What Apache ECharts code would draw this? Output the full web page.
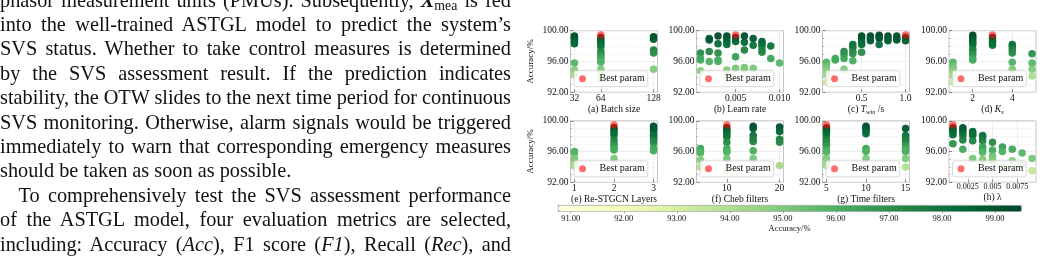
<!DOCTYPE html>
<html>
<head>
<meta charset="utf-8">
<script src="https://cdn.jsdelivr.net/npm/echarts@6/dist/echarts.min.js"></script>
<style>
  html, body { margin: 0; padding: 0; background: #fff; overflow: hidden; }
  #page { position: relative; width: 1043px; height: 258px; }
  #chart { position: absolute; left: 0; top: 0; width: 1043px; height: 258px; }
  #text { position: absolute; left: 0; top: 0; width: 511px; height: 258px;
          font-family: "Liberation Serif", "Times New Roman", serif; font-size: 20.3px; color: #111; }
  #text .ln { position: absolute; left: 0; white-space: nowrap; line-height: 24.4px; }
  #text .sub { font-size: 0.68em; position: relative; top: 0.28em; }
</style>
</head>
<body>
<div id="page">
  <div id="chart"></div>
  <div id="text">
    <div class="ln">phasor measurement units (PMUs). Subsequently, <b><i>X</i></b><span class="sub">mea</span> is fed</div>
    <div class="ln">into the well-trained ASTGL model to predict the system’s</div>
    <div class="ln">SVS status. Whether to take control measures is determined</div>
    <div class="ln">by the SVS assessment result. If the prediction indicates</div>
    <div class="ln">stability, the OTW slides to the next time period for continuous</div>
    <div class="ln">SVS monitoring. Otherwise, alarm signals would be triggered</div>
    <div class="ln">immediately to warn that corresponding emergency measures</div>
    <div class="ln" data-last="1">should be taken as soon as possible.</div>
    <div class="ln" data-indent="18.5">To comprehensively test the SVS assessment performance</div>
    <div class="ln">of the ASTGL model, four evaluation metrics are selected,</div>
    <div class="ln">including: Accuracy (<i>Acc</i>), F1 score (<i>F1</i>), Recall (<i>Rec</i>), and</div>
  </div>
</div>
<script>
  // ---- data ----
  // (a) batch size
  const batchSizes = [32, 64, 128];
  const batchAcc = [
    [99.3, 99.1, 98.9, 98.6, 98.3, 95.8, 94.9, 94.6, 94.3],
    [99.1, 98.8, 98.5, 98.2, 97.9, 97.3, 97.0, 96.7, 96.4, 96.1, 95.9, 95.0, 94.2, 93.7],
    [99.2, 98.9, 97.5, 97.1, 95.0]
  ];
  const batchBest = [64, 99.45];

  // (b) learn rate
  const learnRates = [0.001, 0.002, 0.003, 0.004, 0.005, 0.006, 0.007, 0.008, 0.009, 0.010];
  const learnAcc = [
    [97.1, 96.4, 96.2, 94.8],
    [99.0, 98.8, 97.3, 96.0],
    [99.3, 98.3, 97.1, 96.2, 96.0],
    [99.3, 99.0, 98.6, 98.2, 94.9, 94.2],
    [99.1, 98.6, 96.6, 95.1],
    [99.3, 98.5, 97.5, 95.2, 95.0],
    [99.0, 98.1, 95.1],
    [98.6, 98.3, 98.0, 97.5, 97.2],
    [98.0, 96.4],
    [95.8]
  ];
  const learnBest = [0.005, 99.45];

  // (c) T_win
  const tWins = [0.1, 0.2, 0.3, 0.4, 0.5, 0.6, 0.7, 0.8, 0.9, 1.0];
  const tWinAcc = [
    [95.9, 95.4, 95.1, 94.7, 94.3, 93.3],
    [96.4, 96.2],
    [97.3, 96.9, 96.4, 95.0],
    [98.2, 97.8, 97.3, 97.0, 96.1],
    [99.3, 99.0, 98.5, 98.2, 97.2],
    [99.3, 99.0, 98.7],
    [99.4, 99.2, 99.0, 98.2],
    [99.3, 99.0, 98.7],
    [99.3, 99.0, 98.8],
    [99.1, 98.7]
  ];
  const tWinBest = [1.0, 99.45];

  // (d) K_s
  const ksValues = [1, 2, 3, 4, 5];
  const ksAcc = [
    [95.9, 95.4, 95.1, 94.7, 94.4, 94.2, 93.3],
    [99.4, 99.1, 98.8, 98.5, 98.2, 97.6, 97.3, 96.9, 96.4, 96.2],
    [99.1, 98.7, 98.4, 98.1],
    [98.2, 97.9, 97.5, 97.1, 95.9, 95.0],
    [97.0, 95.8, 95.0, 94.1]
  ];
  const ksBest = [3, 99.45];

  // (e) Re-STGCN layers
  const layerCounts = [1, 2, 3];
  const layerAcc = [
    [96.0, 95.8, 95.1, 94.9, 94.3, 94.1],
    [99.1, 98.8, 98.4, 98.1, 97.5, 97.1, 96.8, 96.4, 96.2, 95.1],
    [99.3, 99.0, 98.7, 98.2, 98.0, 97.5, 97.1, 96.4, 96.1]
  ];
  const layerBest = [2, 99.45];

  // (f) Cheb filters
  const chebFilters = [5, 10, 15, 20];
  const chebAcc = [
    [96.4, 96.2, 96.0, 95.8, 94.9, 94.0],
    [99.1, 98.8, 98.5, 98.2, 97.9, 97.2, 96.4, 96.1, 95.9, 95.1, 93.6],
    [99.3, 99.0, 98.1, 97.6, 97.3, 96.1, 95.1],
    [99.2, 98.6, 97.6, 97.2, 94.2]
  ];
  const chebBest = [10, 99.45];

  // (g) time filters
  const timeFilters = [5, 10, 15];
  const timeAcc = [
    [99.1, 98.8, 98.5, 98.1, 97.5, 97.1, 96.8, 96.2, 95.9, 95.1, 94.6, 94.2],
    [99.3, 99.1, 98.9, 98.6, 98.3, 96.4, 96.2, 96.0, 95.1],
    [99.0, 98.1, 97.7, 97.3, 96.8, 96.4, 96.2, 96.0, 95.1, 94.0]
  ];
  const timeBest = [5, 99.45];

  // (h) lambda
  const lambdas = [0.001, 0.002, 0.003, 0.004, 0.005, 0.006, 0.007, 0.008, 0.009];
  const lambdaAcc = [
    [99.1, 98.8, 98.5, 98.2, 97.0],
    [99.1, 98.8, 98.5, 98.1, 97.5, 96.3],
    [98.6, 98.3, 98.1, 97.4, 95.1],
    [98.1, 97.9, 97.4, 96.6, 96.3, 95.9, 95.0],
    [97.2, 96.2, 95.4, 95.0, 94.8],
    [96.6, 96.0, 94.0],
    [96.3, 94.8],
    [95.8, 94.3],
    [95.1, 93.5]
  ];
  const lambdaBest = [0.001, 99.45];

  // colour bar
  const accRange = [90.76, 99.49];
  const colorbarTicks = [91, 92, 93, 94, 95, 96, 97, 98, 99];

  // ---- layout / style ----
  const FONT = '"Liberation Serif", "Times New Roman", serif';
  const ylgn = ['#ffffe5', '#f7fcb9', '#d9f0a3', '#addd8e', '#78c679', '#41ab5d', '#238443', '#006837', '#004529'];
  const colLefts = [570.5, 696.5, 822.5, 949];
  const rowTops = [30.7, 120.8];
  const W = 87, H = 61.5;

  const panels = [
    { name: '(a) Batch size', xs: batchSizes, acc: batchAcc, best: batchBest, range: [27.2, 132.8], ticks: [32, 64, 128], fmt: v => String(v) },
    { name: '(b) Learn rate', xs: learnRates, acc: learnAcc, best: learnBest, range: [0.00055, 0.01045], ticks: [0.005, 0.01], fmt: v => v.toFixed(3) },
    { name: '{n|(c) }{i|T}{s|win}{n| /s}', xs: tWins, acc: tWinAcc, best: tWinBest, range: [0.055, 1.045], ticks: [0.5, 1.0], fmt: v => v.toFixed(1) },
    { name: '{n|(d) }{i|K}{s|s}', xs: ksValues, acc: ksAcc, best: ksBest, range: [0.8, 5.2], ticks: [2, 4], fmt: v => String(v) },
    { name: '(e) Re-STGCN Layers', xs: layerCounts, acc: layerAcc, best: layerBest, range: [0.9, 3.1], ticks: [1, 2, 3], fmt: v => String(v) },
    { name: '(f) Cheb filters', xs: chebFilters, acc: chebAcc, best: chebBest, range: [4.25, 20.75], ticks: [10, 20], fmt: v => String(v) },
    { name: '(g) Time filters', xs: timeFilters, acc: timeAcc, best: timeBest, range: [4.5, 15.5], ticks: [5, 10, 15], fmt: v => String(v) },
    { name: '(h) λ', xs: lambdas, acc: lambdaAcc, best: lambdaBest, range: [0.0006, 0.0094], ticks: [0.0025, 0.005, 0.0075], fmt: v => String(+v.toFixed(4)), labelSize: 8 }
  ];

  const richName = {
    n: { fontFamily: FONT, fontSize: 9.5, color: '#111', lineHeight: 14, verticalAlign: 'middle' },
    i: { fontFamily: FONT, fontSize: 9.5, color: '#111', fontStyle: 'italic', lineHeight: 14, verticalAlign: 'middle' },
    s: { fontFamily: FONT, fontSize: 6.5, color: '#111', fontStyle: 'italic', lineHeight: 14, verticalAlign: 'bottom' }
  };

  const grid = [], xAxis = [], yAxis = [], series = [], legend = [], greenIdx = [];

  panels.forEach((p, k) => {
    const r = Math.floor(k / 4), c = k % 4;
    grid.push({ left: colLefts[c], top: rowTops[r], width: W, height: H, show: true,
      borderColor: '#b5b5b5', borderWidth: 0.8, backgroundColor: 'transparent' });

    xAxis.push({
      type: 'value', gridIndex: k, min: p.range[0], max: p.range[1],
      name: p.name, nameLocation: 'middle', nameGap: 10,
      nameTextStyle: { fontFamily: FONT, fontSize: 9.5, color: '#111', rich: richName },
      axisLine: { show: false },
      axisTick: { show: true, inside: true, length: 3, customValues: p.ticks, lineStyle: { color: '#444', width: 0.6 } },
      axisLabel: { customValues: p.ticks, formatter: p.fmt, fontFamily: FONT, fontSize: p.labelSize || 9.5, color: '#111', margin: 1 },
      splitLine: { show: true, lineStyle: { color: '#e2e2e2', width: 0.6 } }
    });

    yAxis.push({
      type: 'value', gridIndex: k, min: 92, max: 100, interval: 4,
      name: c === 0 ? 'Accuracy/%' : '', nameLocation: 'middle', nameGap: 35,
      nameTextStyle: { fontFamily: FONT, fontSize: 9, color: '#111' },
      axisLine: { show: false },
      axisTick: { show: true, inside: true, length: 3, lineStyle: { color: '#444', width: 0.6 } },
      minorTick: { show: true, splitNumber: 4, length: 1.5, lineStyle: { color: '#666', width: 0.5 } },
      axisLabel: { formatter: v => v.toFixed(2), fontFamily: FONT, fontSize: 9.5, color: '#111', margin: 2 },
      splitLine: { show: true, lineStyle: { color: '#e2e2e2', width: 0.6 } },
      minorSplitLine: { show: true, lineStyle: { color: '#efefef', width: 0.5 } }
    });

    const pts = [];
    p.xs.forEach((x, j) => p.acc[j].forEach(a => pts.push([x, a])));
    greenIdx.push(series.length);
    series.push({ type: 'scatter', xAxisIndex: k, yAxisIndex: k, symbolSize: 7.5,
      data: pts, itemStyle: { opacity: 0.95 }, z: 2, silent: true });
    series.push({ name: 'Best param', type: 'scatter', xAxisIndex: k, yAxisIndex: k, symbolSize: 7.5,
      data: [p.best], itemStyle: { color: 'rgba(255,0,0,0.72)' }, z: 3, silent: true });

    legend.push({
      data: ['Best param'], left: colLefts[c] + 3.5, top: rowTops[r] + 40,
      itemWidth: 24, itemHeight: 7, itemGap: 0, padding: [3, 3, 3, 5],
      backgroundColor: 'rgba(255,255,255,0.8)', borderColor: '#cfcfcf', borderWidth: 0.8, borderRadius: 2,
      textStyle: { fontFamily: FONT, fontSize: 10, color: '#111' }, selectedMode: false
    });
  });

  // colour bar axis (labels under the visualMap bar)
  grid.push({ left: 558, top: 205, width: 463, height: 6, show: false });
  xAxis.push({
    type: 'value', gridIndex: 8, min: accRange[0], max: accRange[1],
    name: 'Accuracy/%', nameLocation: 'middle', nameGap: 13,
    nameTextStyle: { fontFamily: FONT, fontSize: 8.5, color: '#111' },
    axisLine: { show: false },
    axisTick: { show: true, length: 2, customValues: colorbarTicks, lineStyle: { color: '#444', width: 0.6 } },
    axisLabel: { customValues: colorbarTicks, formatter: v => v.toFixed(2), fontFamily: FONT, fontSize: 8.5, color: '#111', margin: 3 },
    splitLine: { show: false }
  });
  yAxis.push({ type: 'value', gridIndex: 8, show: false });

  const chart = echarts.init(document.getElementById('chart'), null, { renderer: 'canvas' });
  chart.setOption({
    animation: false,
    grid, xAxis, yAxis, series, legend,
    visualMap: {
      type: 'continuous', min: accRange[0], max: accRange[1], dimension: 1,
      seriesIndex: greenIdx, orient: 'horizontal', left: 558, top: 205,
      itemWidth: 6, itemHeight: 463, padding: 0, calculable: false, hoverLink: false,
      borderColor: '#888', borderWidth: 0.8,
      inRange: { color: ylgn }
    }
  });

  // justify paragraph lines like the typeset column
  const lines = document.querySelectorAll('#text .ln');
  lines.forEach((el, i) => {
    el.style.top = (6.5 + 24.4 * i - 19) + 'px';
    const indent = parseFloat(el.dataset.indent || 0);
    el.style.left = indent + 'px';
    if (el.dataset.last) return;
    const w = el.getBoundingClientRect().width;
    const spaces = (el.textContent.match(/ /g) || []).length;
    el.style.wordSpacing = ((511 - indent - w) / spaces) + 'px';
  });
</script>
</body>
</html>
